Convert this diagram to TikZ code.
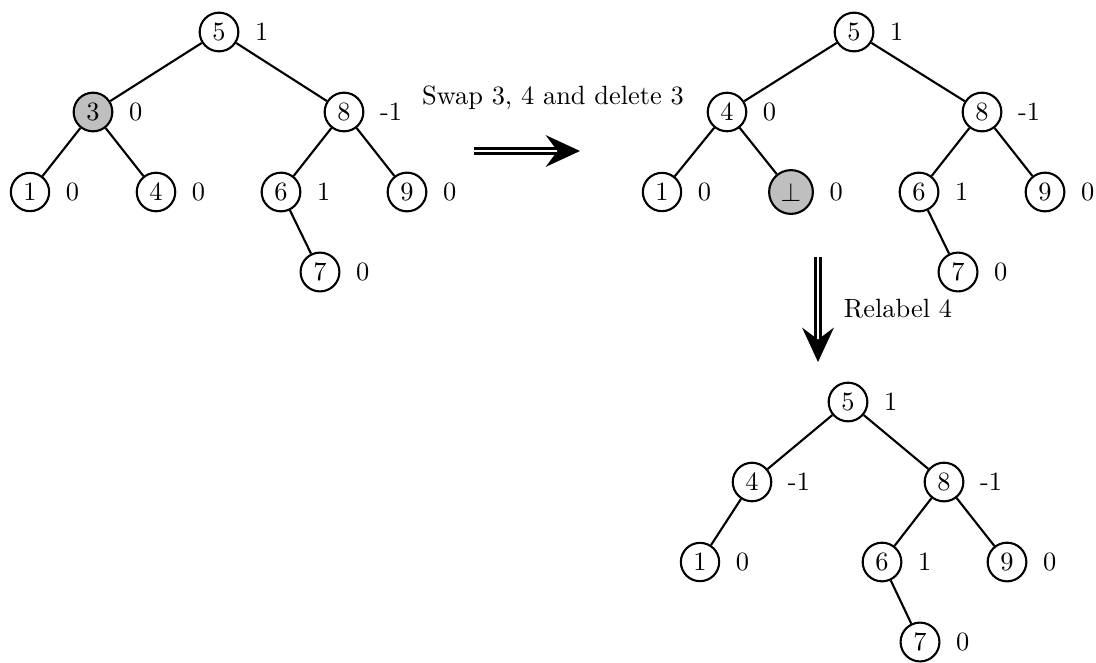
\documentclass[tikz,border=0pt]{standalone}
\usetikzlibrary{arrows.meta}
\begin{document}
\begin{tikzpicture}[x=0.3788pt,y=-0.3788pt,every node/.style={black},
	vertex/.style={circle,draw,thick,inner sep=2.2pt},
	gone/.style={vertex,fill=black!25},
	bal/.style={label={[label distance=2.4pt]right:#1}},
	move/.style={double,double distance=0.8pt,line width=1pt,-{Stealth[length=13pt,width=12pt,inset=4.5pt]}}]
	\useasboundingbox (0,0) rectangle (1096,662);
%	\node[vertex,bal=  ] (  ) at (X+DX    , Y+80*L  ) {};
	\node[vertex,bal=1 ] (a5) at (219      , 32      ) {5};
	\node[gone,bal=0   ] (a3) at (219-126  , 32+80*1 ) {3};
	\node[vertex,bal=-1] (a8) at (219+125  , 32+80*1 ) {8};
	\node[vertex,bal=0 ] (a1) at (93-63    , 32+80*2 ) {1};
	\node[vertex,bal=0 ] (a4) at (93+63    , 32+80*2 ) {4};
	\node[vertex,bal=1 ] (a6) at (344-63   , 32+80*2 ) {6};
	\node[vertex,bal=0 ] (a9) at (344+63   , 32+80*2 ) {9};
	\node[vertex,bal=0 ] (a7) at (281+39   , 32+80*3 ) {7};

	\node[vertex,bal=1 ] (b5) at (854      , 32      ) {5};
	\node[vertex,bal=0 ] (b4) at (854-127  , 32+80*1 ) {4};
	\node[vertex,bal=-1] (b8) at (854+128  , 32+80*1 ) {8};
	\node[vertex,bal=0 ] (b1) at (727-65   , 32+80*2 ) {1};
	\node[gone,bal=0   ] (bb) at (727+64   , 32+80*2 ) {$\bot$};
	\node[vertex,bal=1 ] (b6) at (982-63   , 32+80*2 ) {6};
	\node[vertex,bal=0 ] (b9) at (982+63   , 32+80*2 ) {9};
	\node[vertex,bal=0 ] (b7) at (919+39   , 32+80*3 ) {7};

	\node[vertex,bal=1 ] (c5) at (848      , 402     ) {5};
	\node[vertex,bal=-1] (c4) at (848-96   , 402+80*1) {4};
	\node[vertex,bal=-1] (c8) at (848+96   , 402+80*1) {8};
	\node[vertex,bal=0 ] (c1) at (752-52   , 402+80*2) {1};
	\node[vertex,bal=1 ] (c6) at (944-62   , 402+80*2) {6};
	\node[vertex,bal=0 ] (c9) at (944+63   , 402+80*2) {9};
	\node[vertex,bal=0 ] (c7) at (882+38   , 402+80*3) {7};

	\draw[thick] (a5) -- (a3) (a5) -- (a8) (a3) -- (a1) (a3) -- (a4) (a8) -- (a6) (a8) -- (a9) (a6) -- (a7);
	\draw[thick] (b5) -- (b4) (b5) -- (b8) (b4) -- (b1) (b4) -- (bb) (b8) -- (b6) (b8) -- (b9) (b6) -- (b7);
	\draw[thick] (c5) -- (c4) (c5) -- (c8) (c4) -- (c1) (c8) -- (c6) (c8) -- (c9) (c6) -- (c7);

	\coordinate (s0) at (474, 151);
	\coordinate (s1) at (580, 151);
	\coordinate (r0) at (818, 257);
	\coordinate (r1) at (818, 362);
	\draw[move] (s0) -- (s1);
	\draw[move] (r0) -- (r1);
	\node (swap) at (553, 98) {Swap 3, 4 and delete 3};
	\node (relabel) at (898, 309) {Relabel 4};
\end{tikzpicture}
\end{document}
